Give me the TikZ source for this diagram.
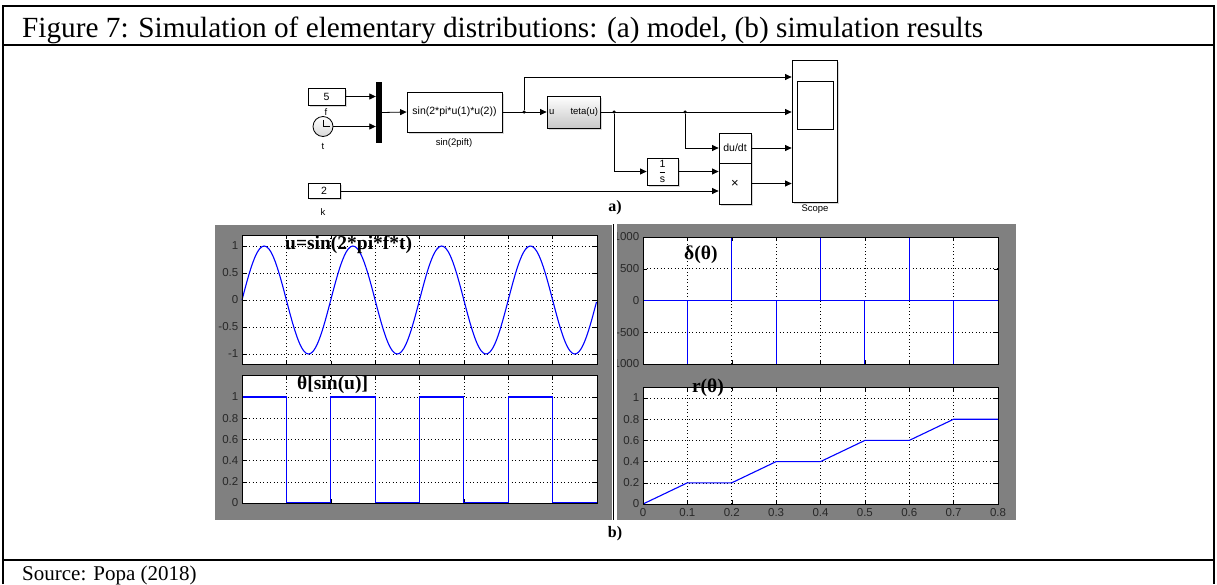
\documentclass[tikz,border=0pt]{standalone}
\usepackage{fontspec}
\setmainfont{Liberation Serif}
\setsansfont{Liberation Sans}
\usetikzlibrary{arrows.meta, positioning, calc, shadows}
\definecolor{figgray}{RGB}{128,128,128}
\definecolor{plotblue}{RGB}{0,0,255}
\definecolor{tickgray}{RGB}{40,40,40}

\tikzset{
  frame/.style={line width=2pt},
  blk/.style={draw, line width=0.8pt, fill=white, inner sep=1pt,
    font=\fontsize{10.5}{10.5}\sffamily,
    drop shadow={shadow xshift=1.5pt, shadow yshift=-1.5pt, fill=black!30}},
  sig/.style={line width=0.8pt, -{Triangle[length=6.5pt, width=6pt]}},
  junc/.style={circle, fill, inner sep=0pt, minimum size=3.5pt},
  blklabel/.style={font=\fontsize{9.5}{9.5}\sffamily, inner sep=0pt},
  panel/.style={fill=figgray},
  axbox/.style={line width=0.9pt},
  gridline/.style={line width=0.6pt, dash pattern=on 1pt off 2.5pt},
  curve/.style={plotblue, line width=1.1pt},
  ticklbl/.style={font=\fontsize{11.5}{11.5}\sffamily, text=tickgray, inner sep=0pt},
  plottitle/.style={font=\fontsize{19.5}{19.5}\bfseries, inner sep=0pt},
  partlbl/.style={font=\fontsize{16}{16}\bfseries, inner sep=0pt},
}

\begin{document}
\begin{tikzpicture}[x=1pt, y=-1pt]
\useasboundingbox (0,0) rectangle (1217,584);

% table
\draw[frame] (3,584) -- (3,6) -- (1214,6) -- (1214,584);
\draw[frame] (3,45) -- (1214,45);
\draw[frame] (3,560) -- (1214,560);
\node[anchor=base west, inner sep=0pt] (caption) at (22,37)
  {\resizebox{961pt}{!}{\fontsize{27}{27}\selectfont Figure 7: Simulation of elementary distributions: (a) model, (b) simulation results}};
\node[anchor=base west, inner sep=0pt, font=\fontsize{21}{21}\selectfont] (source) at (22,580) {Source: Popa (2018)};

% (a) model
\node[blk, minimum width=37pt, minimum height=17pt] (const5) at (326.5,96.5) {5};
\node[blklabel] (flbl) at (326,112) {f};
\node[draw, circle, line width=0.8pt, top color=white, bottom color=black!15, minimum size=20pt, inner sep=0pt] (clock) at (323,126.5) {};
\draw[line width=0.8pt] (clock.center) -- ++(0,-7) (clock.center) -- ++(7,0);
\node[blklabel] (tlbl) at (323,146) {t};
\node[fill=black, minimum width=6pt, minimum height=61pt, inner sep=0pt] (mux) at (379,112.5) {};
\node[blk, minimum width=95pt, minimum height=40pt] (sinfcn) at (454.5,112) {sin(2*pi*u(1)*u(2))};
\node[blklabel] (sinlbl) at (454,143) {sin(2pift)};
\node[blk, top color=white, bottom color=black!22, minimum width=53pt, minimum height=32pt,
  text width=49pt, font=\fontsize{9.5}{9.5}\sffamily] (teta) at (573.5,112) {u\hfill teta(u)};
\node[blk, minimum width=31pt, minimum height=27pt] (integ) at (662.5,171.5) {$\displaystyle\frac{\mathsf{1}}{\mathsf{s}}$};
\node[blk, minimum width=32pt, minimum height=30pt] (deriv) at (735,148) {du/dt};
\node[blk, minimum width=32pt, minimum height=41pt, font=\fontsize{13}{13}\sffamily] (prod) at (735,183.5) {×};
\node[blk, minimum width=32pt, minimum height=15pt] (const2) at (324,191) {2};
\node[blklabel] (klbl) at (323,212) {k};
\node[blk, minimum width=45pt, minimum height=142pt] (scope) at (814.5,131) {};
\node[draw, line width=0.8pt, minimum width=36pt, minimum height=48pt] (screen) at (815,105) {};
\node[blklabel] (scopelbl) at (815,209) {Scope};
\node[junc] (j1) at (524,112) {};
\node[junc] (j2) at (614,112) {};
\node[junc] (j3) at (685,112) {};
\coordinate (bend) at (524,77);

\draw[sig] (const5.east) -- (const5.east -| mux.west);
\draw[sig] (clock.east) -- (clock.east -| mux.west);
\draw[sig] (mux.east) -- (sinfcn.west);
\draw[sig] (sinfcn.east) -- (teta.west);
\draw[sig] (j1) -- (bend) -- (bend -| scope.west);
\draw[sig] (teta.east) -- (teta.east -| scope.west);
\draw[sig] (j2) |- (integ.west);
\draw[sig] (j3) |- (deriv.west);
\draw[sig] (integ.east) -- (integ.east -| prod.west);
\draw[sig] (const2.east) -- (const2.east -| prod.west);
\draw[sig] (deriv.east) -- (deriv.east -| scope.west);
\draw[sig] (prod.east) -- (prod.east -| scope.west);
\node[partlbl] (alabel) at (615,208) {a)};

% (b) simulation results
\fill[panel] (215,225) rectangle (612,520);
\fill[panel] (617,224) rectangle (1016,520);
\draw[line width=1.5pt] (613.5,224) -- (613.5,520);

% u = sin(2 pi f t)
\begin{scope}[shift={(242,300)}, x=355pt, y=54pt]
  \fill[white] (0,-1.2) rectangle (1,1.2);
  \foreach \k in {1,...,7} {
    \draw[gridline] (\k/8,-1.2) -- (\k/8,1.2);
    \draw (\k/8,-1.2) -- ++(0,4pt) (\k/8,1.2) -- ++(0,-4pt);
  }
  \foreach \v in {-1,-0.5,0,0.5,1} {
    \draw[gridline] (0,\v) -- (1,\v);
    \draw (0,\v) -- ++(4pt,0) (1,\v) -- ++(-4pt,0);
    \node[ticklbl, anchor=east] at (-0.01,\v) {\v};
  }
  \draw[curve] plot[domain=0:1, samples=161, smooth] (\x,{sin(1440*\x)});
  \draw[axbox] (0,-1.2) rectangle (1,1.2);
  \node[plottitle, anchor=west] (utitle) at (0.121,1.02) {u=sin(2*pi*f*t)};
\end{scope}

% theta[sin(u)]
\begin{scope}[shift={(242,503)}, x=355pt, y=106pt]
  \fill[white] (0,0) rectangle (1,1.2);
  \foreach \k in {1,...,7} {
    \draw[gridline] (\k/8,1) -- (\k/8,1.2);
    \draw (\k/8,0) -- ++(0,4pt) (\k/8,1.2) -- ++(0,-4pt);
  }
  \foreach \v in {0,0.2,0.4,0.6,0.8,1} {
    \draw[gridline] (0,\v) -- (1,\v);
    \draw (0,\v) -- ++(4pt,0) (1,\v) -- ++(-4pt,0);
    \node[ticklbl, anchor=east] at (-0.01,\v) {\v};
  }
  \draw[curve] (0,1) -- (1/8,1) -- (1/8,0) -- (2/8,0) -- (2/8,1) -- (3/8,1) -- (3/8,0)
    -- (4/8,0) -- (4/8,1) -- (5/8,1) -- (5/8,0) -- (6/8,0) -- (6/8,1) -- (7/8,1) -- (7/8,0) -- (1,0);
  \draw[axbox] (0,0) rectangle (1,1.2);
  \node[plottitle, anchor=west] (thtitle) at (0.155,1.113) {θ[sin(u)]};
\end{scope}

% delta(theta)
\begin{scope}[shift={(643,300.5)}, x=443.75pt, y=63.5pt]
  \fill[white] (0,-1) rectangle (0.8,1);
  \foreach \k in {0.1,0.3,0.5,0.7} \draw[gridline] (\k,0) -- (\k,1);
  \foreach \k in {0.2,0.4,0.6} \draw[gridline] (\k,-1) -- (\k,0);
  \foreach \k in {0.1,0.2,...,0.7} \draw (\k,-1) -- ++(0,4pt) (\k,1) -- ++(0,-4pt);
  \foreach \v in {-0.5,0.5} \draw[gridline] (0,\v) -- (0.8,\v);
  \foreach \v in {-1,-0.5,0,0.5,1} \draw (0,\v) -- ++(4pt,0) (0.8,\v) -- ++(-4pt,0);
  \begin{scope}
    \clip (-0.0586,-1.3) rectangle (0,1.3);
    \foreach \v/\t in {-1/-1000,-0.5/-500,0/0,0.5/500,1/1000}
      \node[ticklbl, anchor=east] at (-0.008,\v) {\t};
  \end{scope}
  \draw[curve] (0,0) -- (0.8,0);
  \foreach \k in {0.2,0.4,0.6} \draw[curve] (\k,0) -- (\k,1);
  \foreach \k in {0.1,0.3,0.5,0.7} \draw[curve] (\k,0) -- (\k,-1);
  \draw[axbox] (0,-1) rectangle (0.8,1);
  \node[plottitle, anchor=west] (dtitle) at (0.0924,0.717) {δ(θ)};
\end{scope}

% r(theta)
\begin{scope}[shift={(643,504)}, x=443.75pt, y=106pt]
  \fill[white] (0,0) rectangle (0.8,1.1);
  \foreach \k in {0.1,0.2,...,0.7} {
    \draw[gridline] (\k,0) -- (\k,1.1);
    \draw (\k,0) -- ++(0,4pt) (\k,1.1) -- ++(0,-4pt);
  }
  \foreach \v in {0,0.2,0.4,0.6,0.8,1} {
    \draw[gridline] (0,\v) -- (0.8,\v);
    \draw (0,\v) -- ++(4pt,0) (0.8,\v) -- ++(-4pt,0);
    \node[ticklbl, anchor=east] at (-0.008,\v) {\v};
  }
  \foreach \k in {0,0.1,0.2,0.3,0.4,0.5,0.6,0.7,0.8}
    \node[ticklbl, anchor=north] at (\k,-0.04) {\k};
  \draw[curve] (0,0) -- (0.1,0.2) -- (0.2,0.2) -- (0.3,0.4) -- (0.4,0.4)
    -- (0.5,0.6) -- (0.6,0.6) -- (0.7,0.8) -- (0.8,0.8);
  \draw[axbox] (0,0) rectangle (0.8,1.1);
  \node[plottitle, anchor=west] (rtitle) at (0.110,1.10) {r(θ)};
\end{scope}
\node[partlbl] (blabel) at (615,534) {b)};
\end{tikzpicture}
\end{document}
